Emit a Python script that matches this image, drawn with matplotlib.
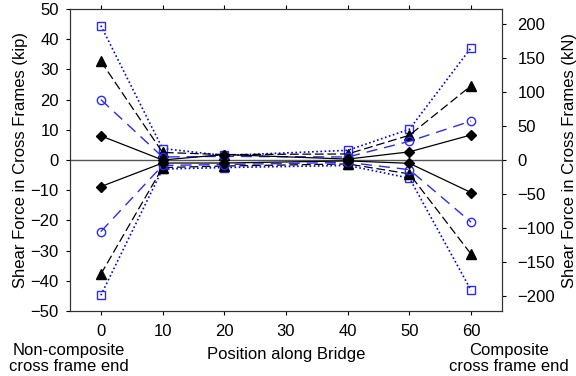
import matplotlib
matplotlib.use("Agg")
import matplotlib.pyplot as plt

plt.rcParams['font.family'] = ['Liberation Sans', 'DejaVu Sans']

positions = [0, 10, 20, 40, 50, 60]
sq_pos = [44.5, 3.8, 1.5, 3.2, 10.2, 37.2]
tri_pos = [32.7, 2.5, 1.8, 2.0, 8.2, 24.6]
cir_pos = [20.0, 1.0, 1.2, 1.0, 6.2, 12.9]
dia_pos = [8.0, 0.0, 1.8, 0.3, 2.7, 8.3]
dia_neg = [-8.8, -1.0, -1.0, -0.3, -1.1, -10.8]
cir_neg = [-23.7, -1.8, -1.5, -0.8, -3.2, -20.6]
tri_neg = [-37.8, -2.5, -2.0, -1.3, -4.6, -31.2]
sq_neg = [-44.8, -3.0, -2.5, -1.8, -6.0, -43.2]

x_ticks = [0, 10, 20, 30, 40, 50, 60]
y_ticks = list(range(-50, 51, 10))
kn_ticks = list(range(-200, 201, 50))
KIP_TO_KN = 4.448

FS = 12

fig = plt.figure(figsize=(5.76, 3.76), dpi=100)
ax = fig.add_axes([70/576, 1-311/376, 432/576, 302/376])

ax.axhline(0, color='#555555', lw=1.0, zorder=1)

blue = '#2a2aff'
for d in (sq_pos, sq_neg):
    ax.plot(positions, d, color='blue', ls=(0, (1, 1.5)), lw=1.2, marker='s', ms=5.5,
            mfc='none', mec=blue, mew=1.0, zorder=3)
for d in (tri_pos, tri_neg):
    ax.plot(positions, d, color='black', ls=(0, (7, 3)), lw=0.9, marker='^', ms=6.5,
            mfc='black', mec='black', zorder=3)
for d in (cir_pos, cir_neg):
    ax.plot(positions, d, color=blue, ls=(0, (8, 5)), lw=1.0, marker='o', ms=6,
            mfc='none', mec=blue, mew=1.0, zorder=3)
for d in (dia_pos, dia_neg):
    ax.plot(positions, d, color='black', ls='-', lw=0.9, marker='D', ms=5.5,
            mfc='black', mec='black', zorder=3)

ax.set_xlim(-5, 65)
ax.set_ylim(-50, 50)
ax.set_xticks(x_ticks)
ax.set_yticks(y_ticks)
ax.tick_params(axis='both', direction='out', length=3, width=0.8, labelsize=FS,
               top=True, pad=5)
ax.tick_params(axis='x', pad=6)
ax.set_ylabel('Shear Force in Cross Frames (kip)', fontsize=FS, labelpad=2)

ax2 = ax.twinx()
ax2.set_ylim(-50*KIP_TO_KN, 50*KIP_TO_KN)
ax2.set_yticks(kn_ticks)
ax2.tick_params(axis='y', direction='out', length=3, width=0.8, labelsize=FS, pad=8)
ax2.set_ylabel('Shear Force in Cross Frames (kN)', fontsize=FS, labelpad=5)

for a in (ax, ax2):
    for s in a.spines.values():
        s.set_linewidth(0.8)
        s.set_color('#333333')

fig.text(286/576, 1-355/376, 'Position along Bridge', ha='center', va='center', fontsize=FS)
fig.text(69/576, 1-358.5/376, 'Non-composite\ncross frame end', ha='center', va='center',
         fontsize=FS, linespacing=1.1)
fig.text(508.5/576, 1-358.5/376, 'Composite\ncross frame end', ha='center', va='center',
         fontsize=FS, linespacing=1.1)

fig.savefig('out.png', dpi=100)
